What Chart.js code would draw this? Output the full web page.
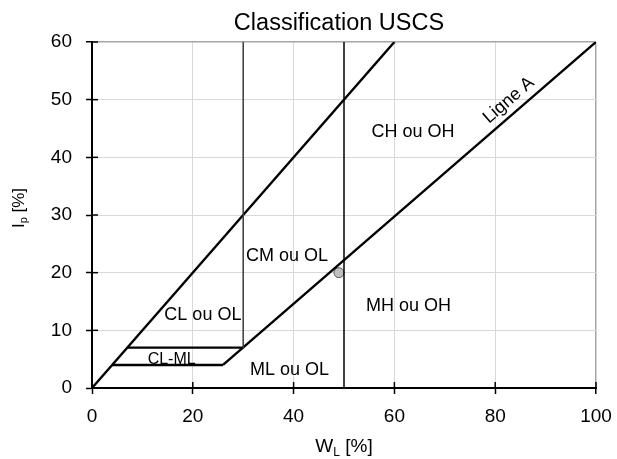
<!DOCTYPE html>
<html>
<head>
<meta charset="utf-8">
<script src="https://cdn.jsdelivr.net/npm/chart.js@4/dist/chart.umd.min.js"></script>
<style>
html,body{margin:0;padding:0;background:#fff;}
canvas{display:block;}
</style>
</head>
<body>
<canvas id="c" width="617" height="459"></canvas>
<script>
// ---- data ----
const diagX = [0, 60],   diagY = [0, 60];      // upper boundary line
const aLineX = [26, 100], aLineY = [4, 60];    // Ligne A
const clTopX = [7, 30],  clTopY = [7, 7];
const clBotX = [4, 26],  clBotY = [4, 4];
const v30X = [30, 30],   v30Y = [7, 60];
const v50X = [50, 50],   v50Y = [0, 60];
const sampleX = [49],    sampleY = [20];

const zoneLabels = ['CL ou OL', 'CL-ML', 'CM ou OL', 'CH ou OH', 'MH ou OH', 'ML ou OL'];
const zoneX = [22, 15.8, 38.7, 63.7, 62.8, 39.2];
const zoneY = [12.7, 5.0, 22.9, 44.4, 14.2, 3.1];
const ligneLabel = 'Ligne A';
const ligneX = [82.7], ligneY = [49.9];

const chartTitle = 'Classification USCS';
const xMin = 0, xMax = 100, xStep = 20;
const yMin = 0, yMax = 60, yStep = 10;

function pts(xs, ys) { return xs.map((x, i) => ({ x: x, y: ys[i] })); }

const FONT = "'Liberation Sans', Arial, sans-serif";

function lineDs(xs, ys, color, w) {
  return { data: pts(xs, ys), showLine: true, borderColor: color, borderWidth: w,
           pointRadius: 0, fill: false, tension: 0 };
}

const annot = {
  id: 'annot',
  afterDraw(chart) {
    const ctx = chart.ctx, xs = chart.scales.x, ys = chart.scales.y, ca = chart.chartArea;
    ctx.save();
    // inner half of the crossing tick marks
    ctx.strokeStyle = '#000'; ctx.lineWidth = 1.5;
    xs.ticks.forEach(t => { const p = xs.getPixelForValue(t.value);
      ctx.beginPath(); ctx.moveTo(p, ca.bottom); ctx.lineTo(p, ca.bottom - 6); ctx.stroke(); });
    ys.ticks.forEach(t => { const p = ys.getPixelForValue(t.value);
      ctx.beginPath(); ctx.moveTo(ca.left, p); ctx.lineTo(ca.left + 6, p); ctx.stroke(); });

    ctx.fillStyle = '#000';
    ctx.textAlign = 'center'; ctx.textBaseline = 'middle';
    // title
    ctx.font = '23.5px ' + FONT;
    ctx.fillText(chartTitle, (ca.left + ca.right) / 2 - 5, 23.5);

    // zone labels
    zoneLabels.forEach((s, i) => {
      ctx.font = (s === 'CL-ML' ? '16px ' : '18px ') + FONT;
      ctx.fillText(s, xs.getPixelForValue(zoneX[i]), ys.getPixelForValue(zoneY[i]));
    });
    // Ligne A label rotated along the line
    const ang = Math.atan2(ys.getPixelForValue(aLineY[1]) - ys.getPixelForValue(aLineY[0]),
                           xs.getPixelForValue(aLineX[1]) - xs.getPixelForValue(aLineX[0]));
    ctx.save();
    ctx.translate(xs.getPixelForValue(ligneX[0]), ys.getPixelForValue(ligneY[0]));
    ctx.rotate(ang);
    ctx.font = '18px ' + FONT;
    ctx.fillText(ligneLabel, 0, 0);
    ctx.restore();

    // x axis title  W_L [%]
    ctx.textBaseline = 'alphabetic'; ctx.textAlign = 'left';
    const xt = (ca.left + ca.right) / 2;
    ctx.font = '19px ' + FONT; const wW = ctx.measureText('W').width;
    ctx.font = '12px ' + FONT; const wL = ctx.measureText('L').width;
    ctx.font = '19px ' + FONT; const wR = ctx.measureText(' [%]').width;
    let x0 = xt - (wW + wL + wR) / 2;
    const by = 452;
    ctx.font = '19px ' + FONT; ctx.fillText('W', x0, by);
    ctx.font = '12px ' + FONT; ctx.fillText('L', x0 + wW, by + 4);
    ctx.font = '19px ' + FONT; ctx.fillText(' [%]', x0 + wW + wL, by);

    // y axis title  I_p [%]
    ctx.save();
    ctx.translate(24, (ca.top + ca.bottom) / 2 - 7);
    ctx.rotate(-Math.PI / 2);
    ctx.font = '17px ' + FONT; const iW = ctx.measureText('I').width;
    ctx.font = '11px ' + FONT; const pW = ctx.measureText('p').width;
    ctx.font = '17px ' + FONT; const rW = ctx.measureText(' [%]').width;
    x0 = -(iW + pW + rW) / 2;
    ctx.font = '17px ' + FONT; ctx.fillText('I', x0, 0);
    ctx.font = '11px ' + FONT; ctx.fillText('p', x0 + iW, 3);
    ctx.font = '17px ' + FONT; ctx.fillText(' [%]', x0 + iW + pW, 0);
    ctx.restore();
    ctx.restore();
  }
};

new Chart(document.getElementById('c'), {
  type: 'scatter',
  data: {
    datasets: [
      lineDs(v30X, v30Y, '#3a3a3a', 1.5),
      lineDs(v50X, v50Y, '#000', 1.5),
      lineDs(diagX, diagY, '#000', 2.4),
      lineDs(aLineX, aLineY, '#000', 2.4),
      lineDs(clTopX, clTopY, '#000', 2.4),
      lineDs(clBotX, clBotY, '#000', 2.4),
      { data: pts(sampleX, sampleY), pointRadius: 5, pointBackgroundColor: '#bfbfbf',
        pointBorderColor: '#595959', pointBorderWidth: 1, showLine: false }
    ]
  },
  options: {
    responsive: false, animation: false, devicePixelRatio: 1,
    layout: { padding: { top: 42, right: 21, left: 0, bottom: 0 } },
    plugins: { legend: { display: false }, tooltip: { enabled: false }, title: { display: false } },
    scales: {
      x: {
        type: 'linear', min: xMin, max: xMax,
        afterFit(s) { s.height = 71; s.paddingLeft = 0; s.paddingRight = 0; },
        ticks: { stepSize: xStep, color: '#000', padding: 11, font: { family: FONT, size: 19 } },
        grid: { color: c => c.tick.value === xMax ? '#a6a6a6' : '#d9d9d9',
                lineWidth: c => c.tick.value === xMax ? 1.5 : 1,
                tickColor: '#000', tickLength: 6, tickWidth: 1.5 },
        border: { color: '#000', width: 2 }
      },
      y: {
        type: 'linear', min: yMin, max: yMax,
        afterFit(s) { s.width = 92; s.paddingTop = 0; s.paddingBottom = 0; },
        ticks: { stepSize: yStep, color: '#000', padding: 14, font: { family: FONT, size: 19 } },
        grid: { color: c => c.tick.value === yMax ? '#a6a6a6' : '#d9d9d9',
                lineWidth: c => c.tick.value === yMax ? 1.5 : 1,
                tickColor: '#000', tickLength: 6, tickWidth: 1.5 },
        border: { color: '#000', width: 2 }
      }
    }
  },
  plugins: [annot]
});
</script>
</body>
</html>
